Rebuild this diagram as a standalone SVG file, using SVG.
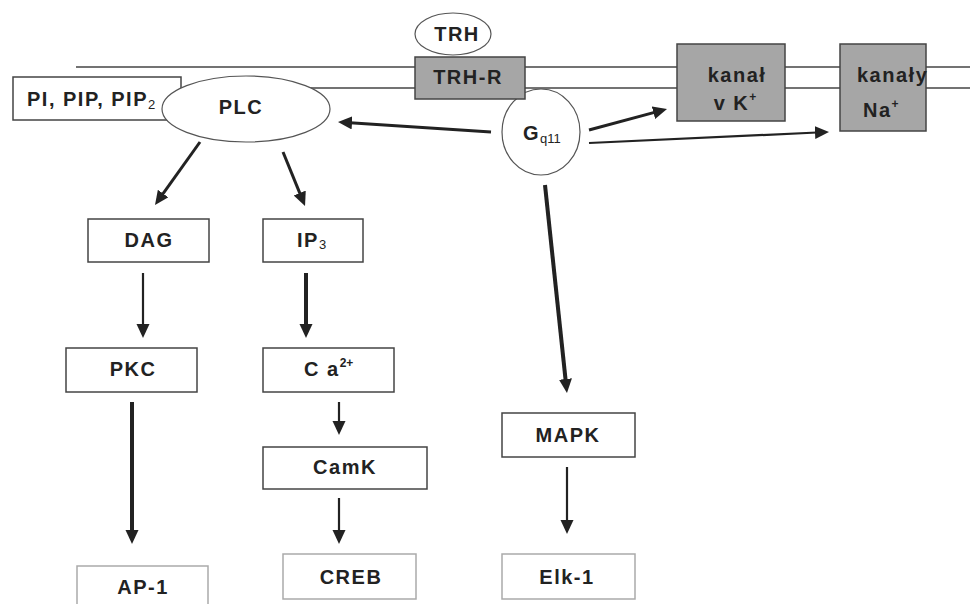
<svg xmlns="http://www.w3.org/2000/svg" width="970" height="604" viewBox="0 0 970 604">
<style>
.bg{fill:#fff}
.mem{stroke:#444;stroke-width:1.5;fill:none}
.box{fill:#fff;stroke:#444;stroke-width:1.5}
.lbox{fill:#fff;stroke:#aaa;stroke-width:1.5}
.gbox{fill:#a6a6a6;stroke:#444;stroke-width:1.5}
.ell{fill:#fff;stroke:#555;stroke-width:1.2}
.t{font-family:"Liberation Sans",Arial,sans-serif;font-weight:bold;font-size:20px;letter-spacing:1.5px;fill:#222}
.m{text-anchor:middle}
.sub{font-size:13px;font-weight:normal;letter-spacing:0}
.sup{font-size:12px;letter-spacing:0}
.arr{stroke:#222;stroke-width:3;fill:none;marker-end:url(#ah)}
.arr2{stroke:#222;stroke-width:2.2;fill:none;marker-end:url(#ah)}
.arr4{stroke:#222;stroke-width:4;fill:none;marker-end:url(#ah)}
</style>
<defs>
<marker id="ah" markerUnits="userSpaceOnUse" markerWidth="16" markerHeight="14" refX="2" refY="6.5" orient="auto">
<path d="M0,0 L14,6.5 L0,13 z" fill="#222"/>
</marker>
</defs>
<rect class="bg" x="0" y="0" width="970" height="604"/>
<g id="membrane">
<line class="mem" x1="76" y1="67" x2="970" y2="67"/>
<line class="mem" x1="250" y1="88" x2="970" y2="88"/>
</g>
<g id="connectors">
<line class="arr" x1="491" y1="132" x2="350" y2="122.8"/>
<line class="arr" x1="589" y1="130" x2="655.4" y2="112.1"/>
<line class="arr2" x1="589" y1="143" x2="817" y2="132.5"/>
<line class="arr4" x1="545" y1="185" x2="565.7" y2="381"/>
<line class="arr" x1="200" y1="142" x2="162" y2="195.2"/>
<line class="arr" x1="283" y1="152" x2="300.5" y2="194.9"/>
<line class="arr2" x1="143" y1="273" x2="143" y2="326"/>
<line class="arr4" x1="306" y1="273" x2="306" y2="326"/>
<line class="arr4" x1="132" y1="402" x2="132" y2="532"/>
<line class="arr2" x1="339" y1="402" x2="339" y2="423"/>
<line class="arr2" x1="339" y1="498" x2="339" y2="532"/>
<line class="arr2" x1="567" y1="467" x2="567" y2="522"/>
</g>
<g id="pi">
<rect class="box" x="13" y="77" width="168" height="43"/>
<text class="t" x="27" y="106">PI, PIP, PIP<tspan class="sub" dy="3">2</tspan></text>
</g>
<g id="plc">
<ellipse class="ell" cx="246" cy="109" rx="84" ry="33"/>
<text class="t m" x="241" y="114">PLC</text>
</g>
<g id="trh">
<ellipse class="ell" cx="453" cy="34" rx="38" ry="21"/>
<text class="t m" x="457" y="41">TRH</text>
</g>
<g id="gq">
<ellipse class="ell" cx="541" cy="132" rx="39" ry="43"/>
<text class="t" x="523" y="140">G<tspan class="sub" dy="3">q11</tspan></text>
</g>
<g id="trhr">
<rect class="gbox" x="415" y="57" width="110" height="42"/>
<text class="t m" x="468" y="84">TRH-R</text>
</g>
<g id="kanalK">
<rect class="gbox" x="677" y="44" width="108" height="77"/>
<text class="t m" x="737" y="82">kanał</text>
<text class="t m" x="735" y="110">v K<tspan class="sup" dy="-9">+</tspan></text>
</g>
<g id="kanalNa">
<rect class="gbox" x="840" y="44" width="86" height="87"/>
<text class="t" x="857" y="82">kanały</text>
<text class="t" x="863" y="117">Na<tspan class="sup" dy="-9">+</tspan></text>
</g>
<g id="dag">
<rect class="box" x="88" y="219" width="121" height="43"/>
<text class="t m" x="149" y="247">DAG</text>
</g>
<g id="ip3">
<rect class="box" x="263" y="219" width="100" height="43"/>
<text class="t" x="297" y="247">IP<tspan class="sub" dy="2">3</tspan></text>
</g>
<g id="pkc">
<rect class="box" x="66" y="348" width="131" height="44"/>
<text class="t m" x="133" y="376">PKC</text>
</g>
<g id="ca">
<rect class="box" x="263" y="348" width="131" height="44"/>
<text class="t" x="304" y="376">C a<tspan class="sup" dy="-9">2+</tspan></text>
</g>
<g id="camk">
<rect class="box" x="263" y="447" width="164" height="42"/>
<text class="t m" x="345" y="474">CamK</text>
</g>
<g id="creb">
<rect class="lbox" x="283" y="554" width="133" height="45"/>
<text class="t m" x="351" y="584">CREB</text>
</g>
<g id="ap1">
<rect class="lbox" x="77" y="566" width="131" height="46"/>
<text class="t m" x="143" y="594">AP-1</text>
</g>
<g id="mapk">
<rect class="box" x="502" y="413" width="133" height="44"/>
<text class="t m" x="568" y="442">MAPK</text>
</g>
<g id="elk1">
<rect class="lbox" x="502" y="554" width="133" height="45"/>
<text class="t m" x="567" y="584">Elk-1</text>
</g>
</svg>
